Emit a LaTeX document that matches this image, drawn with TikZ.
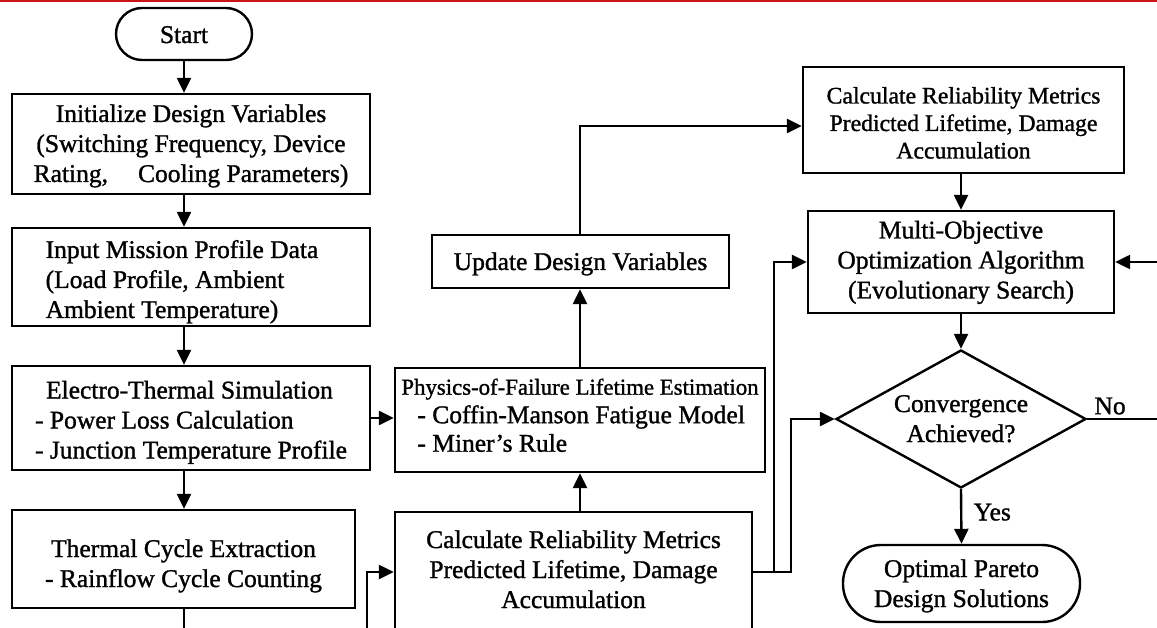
\documentclass[tikz,border=0pt]{standalone}
\usepackage{fontspec}
\usepackage{graphicx}
\setmainfont{Liberation Serif}[FakeBold=1.2]
\usetikzlibrary{arrows.meta,shapes.geometric,calc}
\definecolor{topred}{RGB}{204,20,24}
% multi-line node text: #1 column alignment, #2 vertical shift, #3 lines
\newcommand\tx[3][c]{\raisebox{#2}[\height][\depth]{\begin{tabular}{@{}#1@{}}#3\end{tabular}}}
\begin{document}
\begin{tikzpicture}[x=1pt,y=-1pt,
  every node/.style={font=\fontsize{25.5}{30}\selectfont},
  box/.style={draw,line width=2.4pt,inner sep=0pt,align=center},
  arr/.style={line width=2.4pt,-{Triangle[length=15pt,width=14pt]}}]
\useasboundingbox (0,0) rectangle (1157,628);
\fill[topred] (0,0) rectangle (1157,2.5);

% left column
\node[box, rounded corners=26pt, minimum width=136pt, minimum height=52pt] (start) at (184,34)
  {\tx{-3pt}{Start}};
\node[box, minimum width=358pt, minimum height=100pt] (init) at (191,144)
  {\tx{-2pt}{Initialize Design Variables\\(Switching Frequency, Device\\Rating,\hspace{30pt}Cooling Parameters)}};
\node[box, minimum width=358pt, minimum height=98pt] (input) at (191,277)
  {\tx[l]{-5pt}{Input Mission Profile Data\hspace*{18pt}\\(Load Profile, Ambient\\Ambient Temperature)}};
\node[box, minimum width=358pt, minimum height=104pt] (elec) at (191,418)
  {\tx[l]{-4.5pt}{\hspace*{11pt}Electro-Thermal Simulation\\- Power Loss Calculation\\- Junction Temperature Profile}};
\node[box, minimum width=343pt, minimum height=98pt] (therm) at (183.5,559)
  {\tx{-7pt}{Thermal Cycle Extraction\\- Rainflow Cycle Counting}};

% middle column
\node[box, minimum width=357pt, minimum height=120pt] (cr2) at (573.5,572)
  {\tx{0pt}{Calculate Reliability Metrics\\Predicted Lifetime, Damage\\Accumulation}};
\node[box, font=\fontsize{25.5}{28.5}\selectfont, minimum width=370pt, minimum height=104pt] (pof) at (580,420)
  {\tx[l]{2.5pt}{{\fontsize{22.8}{28.5}\selectfont Physics-of-Failure Lifetime Estimation}\\\hspace*{16pt}- Coffin-Manson Fatigue Model\\\hspace*{16pt}- Miner’s Rule}};
\node[box, minimum width=297pt, minimum height=53pt] (upd) at (580.5,261.5)
  {\tx{-2.5pt}{Update Design Variables}};

% right column
\node[box, font=\fontsize{23.7}{27.5}\selectfont, minimum width=321pt, minimum height=106pt] (cr1) at (963.5,120)
  {\tx{-5.5pt}{Calculate Reliability Metrics\\Predicted Lifetime, Damage\\Accumulation}};
\node[box, minimum width=306pt, minimum height=102pt] (moo) at (961,262)
  {\tx{-0.5pt}{Multi-Objective\\Optimization Algorithm\\(Evolutionary Search)}};
\node[box, diamond, aspect=1.8, minimum width=250pt, minimum height=138pt] (conv) at (961,419)
  {\tx{-2pt}{Convergence\\Achieved?}};
\node[box, rounded corners=38pt, minimum width=237pt, minimum height=77pt] (par) at (961.5,583.5)
  {\tx{-2.5pt}{Optimal Pareto\\Design Solutions}};

% connectors
\draw[arr] (start) -- (start |- init.north);
\draw[arr] (init.south -| start) -- (input.north -| start);
\draw[arr] (input.south -| start) -- (elec.north -| start);
\draw[arr] (elec.south -| start) -- (therm.north -| start);
\draw[arr] (elec.east) -- (pof.west |- elec.east);
\draw[arr] (therm.south -| start) -- ++(0,42) -| ($(cr2.west)+(-27,0)$) -- (cr2.west);
\draw[arr] (cr2.north -| pof) -- (pof.south);
\draw[arr] (pof.north) -- (pof.north |- upd.south);
\draw[arr] (upd.north -| pof) |- ([yshift=-6pt]cr1.west);
\draw[arr] (cr1.south -| moo) -- (moo.north);
\draw[arr] (moo.south) -- (conv.north);
\draw[arr] (conv.south) -- node[right=8pt, pos=0.42]{Yes} (par.north);
\draw[arr] (conv.east) -- node[pos=0.22, above]{No} ++(104,0) |- (moo.east);
\draw[arr] (cr2.east) -- ++(21,0) |- (moo.west);
\draw[arr] (cr2.east) -- ++(38,0) |- (conv.west);
\end{tikzpicture}
\end{document}
